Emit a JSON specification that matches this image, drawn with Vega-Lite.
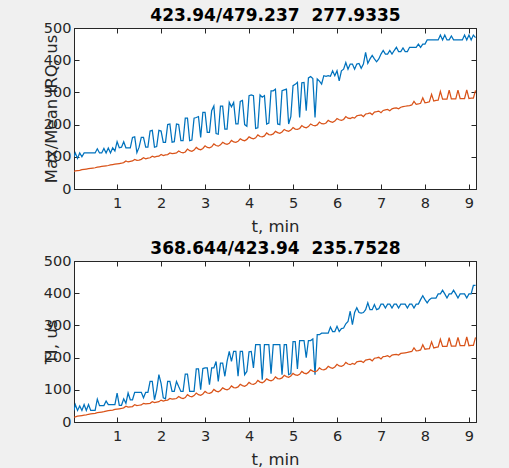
{
"$schema": "https://vega.github.io/schema/vega-lite/v6.json",
"background": "#f0f0f0",
"padding": {"left": 42, "top": 5, "right": 34, "bottom": 0},
"spacing": 3,
"config": {
  "view": {"fill": "white", "stroke": "#262626", "strokeWidth": 1},
  "font": "DejaVu Sans",
  "axis": {"domainColor": "#262626", "tickColor": "#262626", "labelColor": "#262626", "titleColor": "#262626", "labelFont": "DejaVu Sans", "titleFont": "DejaVu Sans", "labelFontSize": 14.5, "titleFontSize": 16.5, "titleFontWeight": "normal", "grid": false, "tickSize": -5, "labelFlush": false, "labelOverlap": false}
},
"datasets": {"d": [
{"t":0.02,"a":100,"b":55,"c":36,"d":15},
{"t":0.05,"a":112,"b":56,"c":54,"d":16},
{"t":0.10,"a":95,"b":57,"c":36,"d":18},
{"t":0.15,"a":112,"b":58,"c":50,"d":19},
{"t":0.20,"a":100,"b":60,"c":36,"d":20},
{"t":0.25,"a":112,"b":61,"c":54,"d":21},
{"t":0.30,"a":112,"b":62,"c":36,"d":22},
{"t":0.35,"a":112,"b":63,"c":54,"d":24},
{"t":0.40,"a":112,"b":64,"c":36,"d":25},
{"t":0.45,"a":112,"b":65,"c":36,"d":26},
{"t":0.50,"a":112,"b":66,"c":36,"d":27},
{"t":0.55,"a":125,"b":68,"c":71,"d":29},
{"t":0.60,"a":112,"b":69,"c":51,"d":30},
{"t":0.65,"a":112,"b":70,"c":51,"d":31},
{"t":0.70,"a":126,"b":71,"c":51,"d":32},
{"t":0.75,"a":112,"b":72,"c":65,"d":34},
{"t":0.80,"a":127,"b":73,"c":54,"d":35},
{"t":0.85,"a":112,"b":75,"c":54,"d":36},
{"t":0.90,"a":128,"b":76,"c":54,"d":37},
{"t":0.95,"a":118,"b":77,"c":54,"d":39},
{"t":1.00,"a":147,"b":78,"c":90,"d":40},
{"t":1.05,"a":128,"b":79,"c":52,"d":41},
{"t":1.10,"a":130,"b":80,"c":52,"d":42},
{"t":1.15,"a":147,"b":82,"c":72,"d":44},
{"t":1.20,"a":128,"b":87,"c":58,"d":49},
{"t":1.25,"a":128,"b":84,"c":90,"d":46},
{"t":1.30,"a":128,"b":86,"c":69,"d":47},
{"t":1.35,"a":160,"b":87,"c":69,"d":48},
{"t":1.40,"a":162,"b":92,"c":92,"d":54},
{"t":1.45,"a":113,"b":89,"c":92,"d":51},
{"t":1.50,"a":130,"b":90,"c":92,"d":52},
{"t":1.55,"a":160,"b":92,"c":92,"d":53},
{"t":1.60,"a":160,"b":97,"c":75,"d":58},
{"t":1.65,"a":130,"b":94,"c":92,"d":56},
{"t":1.70,"a":130,"b":96,"c":92,"d":57},
{"t":1.75,"a":180,"b":97,"c":126,"d":58},
{"t":1.80,"a":182,"b":102,"c":126,"d":63},
{"t":1.85,"a":130,"b":99,"c":69,"d":60},
{"t":1.90,"a":132,"b":101,"c":100,"d":62},
{"t":1.95,"a":182,"b":102,"c":147,"d":63},
{"t":2.00,"a":180,"b":107,"c":120,"d":68},
{"t":2.05,"a":145,"b":104,"c":75,"d":65},
{"t":2.10,"a":145,"b":106,"c":72,"d":67},
{"t":2.15,"a":200,"b":107,"c":126,"d":68},
{"t":2.20,"a":202,"b":112,"c":126,"d":73},
{"t":2.25,"a":145,"b":110,"c":95,"d":71},
{"t":2.30,"a":147,"b":111,"c":95,"d":72},
{"t":2.35,"a":202,"b":112,"c":126,"d":73},
{"t":2.40,"a":200,"b":118,"c":110,"d":79},
{"t":2.45,"a":150,"b":114,"c":95,"d":75},
{"t":2.50,"a":150,"b":112,"c":95,"d":73},
{"t":2.55,"a":220,"b":115,"c":149,"d":76},
{"t":2.60,"a":220,"b":124,"c":149,"d":85},
{"t":2.65,"a":150,"b":119,"c":95,"d":80},
{"t":2.70,"a":152,"b":117,"c":95,"d":78},
{"t":2.75,"a":220,"b":121,"c":95,"d":82},
{"t":2.80,"a":222,"b":129,"c":165,"d":90},
{"t":2.85,"a":225,"b":124,"c":165,"d":85},
{"t":2.90,"a":160,"b":122,"c":100,"d":83},
{"t":2.95,"a":238,"b":126,"c":166,"d":87},
{"t":3.00,"a":238,"b":134,"c":168,"d":95},
{"t":3.05,"a":176,"b":129,"c":168,"d":90},
{"t":3.10,"a":176,"b":128,"c":116,"d":89},
{"t":3.15,"a":243,"b":131,"c":168,"d":92},
{"t":3.20,"a":258,"b":140,"c":168,"d":101},
{"t":3.25,"a":172,"b":135,"c":188,"d":96},
{"t":3.30,"a":170,"b":133,"c":126,"d":94},
{"t":3.35,"a":257,"b":137,"c":183,"d":98},
{"t":3.40,"a":257,"b":145,"c":183,"d":106},
{"t":3.45,"a":186,"b":141,"c":142,"d":102},
{"t":3.50,"a":186,"b":139,"c":188,"d":100},
{"t":3.55,"a":269,"b":142,"c":219,"d":103},
{"t":3.60,"a":255,"b":151,"c":188,"d":112},
{"t":3.65,"a":269,"b":146,"c":219,"d":107},
{"t":3.70,"a":202,"b":145,"c":219,"d":106},
{"t":3.75,"a":202,"b":148,"c":142,"d":109},
{"t":3.80,"a":272,"b":156,"c":219,"d":117},
{"t":3.85,"a":275,"b":152,"c":219,"d":113},
{"t":3.90,"a":200,"b":150,"c":147,"d":111},
{"t":3.95,"a":195,"b":154,"c":157,"d":115},
{"t":4.00,"a":290,"b":162,"c":218,"d":123},
{"t":4.05,"a":292,"b":158,"c":219,"d":118},
{"t":4.10,"a":290,"b":156,"c":168,"d":117},
{"t":4.15,"a":188,"b":159,"c":240,"d":120},
{"t":4.20,"a":190,"b":168,"c":240,"d":129},
{"t":4.25,"a":292,"b":163,"c":240,"d":124},
{"t":4.30,"a":285,"b":162,"c":131,"d":122},
{"t":4.35,"a":290,"b":165,"c":240,"d":126},
{"t":4.40,"a":202,"b":174,"c":240,"d":134},
{"t":4.45,"a":205,"b":169,"c":240,"d":130},
{"t":4.50,"a":305,"b":168,"c":150,"d":128},
{"t":4.55,"a":305,"b":171,"c":240,"d":131},
{"t":4.60,"a":310,"b":179,"c":240,"d":140},
{"t":4.65,"a":202,"b":175,"c":240,"d":135},
{"t":4.70,"a":200,"b":173,"c":240,"d":134},
{"t":4.75,"a":305,"b":177,"c":147,"d":137},
{"t":4.80,"a":308,"b":185,"c":240,"d":145},
{"t":4.85,"a":310,"b":181,"c":240,"d":141},
{"t":4.90,"a":202,"b":179,"c":147,"d":139},
{"t":4.95,"a":225,"b":183,"c":150,"d":143},
{"t":5.00,"a":321,"b":191,"c":250,"d":151},
{"t":5.05,"a":325,"b":186,"c":250,"d":146},
{"t":5.10,"a":331,"b":185,"c":165,"d":145},
{"t":5.15,"a":222,"b":188,"c":253,"d":148},
{"t":5.20,"a":330,"b":197,"c":253,"d":157},
{"t":5.25,"a":331,"b":192,"c":253,"d":152},
{"t":5.30,"a":243,"b":190,"c":200,"d":150},
{"t":5.35,"a":345,"b":194,"c":253,"d":154},
{"t":5.40,"a":349,"b":202,"c":253,"d":162},
{"t":5.45,"a":343,"b":198,"c":258,"d":158},
{"t":5.50,"a":222,"b":196,"c":147,"d":156},
{"t":5.55,"a":342,"b":199,"c":271,"d":159},
{"t":5.60,"a":335,"b":208,"c":271,"d":168},
{"t":5.65,"a":326,"b":203,"c":276,"d":163},
{"t":5.70,"a":352,"b":202,"c":276,"d":162},
{"t":5.75,"a":350,"b":205,"c":276,"d":165},
{"t":5.80,"a":352,"b":213,"c":276,"d":173},
{"t":5.85,"a":350,"b":209,"c":295,"d":169},
{"t":5.90,"a":367,"b":207,"c":281,"d":167},
{"t":5.95,"a":352,"b":211,"c":281,"d":171},
{"t":6.00,"a":367,"b":219,"c":297,"d":179},
{"t":6.05,"a":336,"b":215,"c":281,"d":174},
{"t":6.10,"a":367,"b":213,"c":290,"d":173},
{"t":6.15,"a":372,"b":216,"c":292,"d":176},
{"t":6.20,"a":393,"b":225,"c":305,"d":185},
{"t":6.25,"a":372,"b":220,"c":312,"d":180},
{"t":6.30,"a":388,"b":219,"c":344,"d":178},
{"t":6.35,"a":388,"b":222,"c":302,"d":182},
{"t":6.40,"a":372,"b":220,"c":340,"d":179},
{"t":6.45,"a":388,"b":227,"c":355,"d":187},
{"t":6.50,"a":390,"b":229,"c":340,"d":188},
{"t":6.55,"a":375,"b":230,"c":338,"d":189},
{"t":6.60,"a":388,"b":225,"c":340,"d":185},
{"t":6.65,"a":424,"b":233,"c":349,"d":192},
{"t":6.70,"a":390,"b":234,"c":370,"d":194},
{"t":6.75,"a":404,"b":236,"c":349,"d":195},
{"t":6.80,"a":415,"b":231,"c":349,"d":190},
{"t":6.85,"a":404,"b":239,"c":365,"d":198},
{"t":6.90,"a":395,"b":240,"c":349,"d":199},
{"t":6.95,"a":404,"b":242,"c":352,"d":201},
{"t":7.00,"a":419,"b":237,"c":366,"d":196},
{"t":7.05,"a":430,"b":244,"c":366,"d":203},
{"t":7.10,"a":419,"b":246,"c":354,"d":204},
{"t":7.15,"a":419,"b":247,"c":366,"d":206},
{"t":7.20,"a":430,"b":243,"c":366,"d":202},
{"t":7.25,"a":419,"b":249,"c":354,"d":208},
{"t":7.30,"a":430,"b":251,"c":366,"d":209},
{"t":7.35,"a":440,"b":252,"c":366,"d":210},
{"t":7.40,"a":427,"b":249,"c":354,"d":208},
{"t":7.45,"a":427,"b":254,"c":366,"d":213},
{"t":7.50,"a":438,"b":256,"c":366,"d":214},
{"t":7.55,"a":427,"b":257,"c":366,"d":215},
{"t":7.60,"a":427,"b":258,"c":354,"d":216},
{"t":7.65,"a":440,"b":259,"c":366,"d":218},
{"t":7.70,"a":440,"b":261,"c":366,"d":219},
{"t":7.75,"a":440,"b":272,"c":354,"d":230},
{"t":7.80,"a":440,"b":263,"c":366,"d":221},
{"t":7.85,"a":450,"b":264,"c":366,"d":222},
{"t":7.90,"a":440,"b":266,"c":380,"d":224},
{"t":7.95,"a":450,"b":283,"c":392,"d":240},
{"t":8.00,"a":450,"b":268,"c":380,"d":226},
{"t":8.05,"a":463,"b":269,"c":370,"d":227},
{"t":8.10,"a":463,"b":271,"c":380,"d":228},
{"t":8.15,"a":463,"b":294,"c":385,"d":249},
{"t":8.20,"a":463,"b":273,"c":385,"d":230},
{"t":8.25,"a":463,"b":275,"c":385,"d":232},
{"t":8.30,"a":463,"b":276,"c":398,"d":233},
{"t":8.35,"a":478,"b":303,"c":398,"d":257},
{"t":8.40,"a":463,"b":279,"c":409,"d":235},
{"t":8.45,"a":478,"b":279,"c":398,"d":235},
{"t":8.50,"a":463,"b":279,"c":385,"d":235},
{"t":8.55,"a":463,"b":307,"c":398,"d":262},
{"t":8.60,"a":475,"b":280,"c":398,"d":236},
{"t":8.65,"a":463,"b":280,"c":409,"d":236},
{"t":8.70,"a":463,"b":280,"c":398,"d":236},
{"t":8.75,"a":463,"b":307,"c":385,"d":263},
{"t":8.80,"a":463,"b":281,"c":398,"d":237},
{"t":8.85,"a":463,"b":281,"c":398,"d":237},
{"t":8.90,"a":478,"b":281,"c":398,"d":237},
{"t":8.95,"a":463,"b":308,"c":385,"d":264},
{"t":9.00,"a":478,"b":281,"c":398,"d":237},
{"t":9.05,"a":463,"b":282,"c":398,"d":238},
{"t":9.10,"a":478,"b":282,"c":424,"d":238},
{"t":9.15,"a":470,"b":306,"c":424,"d":263}
]},
"vconcat": [
  {
    "width": 402, "height": 161,
    "data": {"name": "d"},
    "resolve": {"axis": {"x": "independent", "y": "independent"}},
    "layer": [
      {"mark": {"type": "line", "color": "#0072BD", "strokeWidth": 1.25, "clip": true},
       "encoding": {
         "x": {"field": "t", "type": "quantitative", "scale": {"domain": [0.02, 9.16], "nice": false, "zero": false},
               "axis": {"orient": "bottom", "values": [1,2,3,4,5,6,7,8,9], "labelPadding": 12, "title": "t, min", "titleX": 201, "titleY": 42, "titleBaseline": "alphabetic", "titleAlign": "center"}},
         "y": {"field": "a", "type": "quantitative", "scale": {"domain": [0, 500], "nice": false},
               "axis": {"orient": "left", "values": [0,100,200,300,400,500], "labelPadding": 8, "title": "Max/Mean IRQ, us", "titleX": -18, "titleY": 80.5, "titleAngle": 270, "titleBaseline": "alphabetic", "titleAlign": "center"}}
       }},
      {"mark": {"type": "line", "color": "#D95319", "strokeWidth": 1.25, "clip": true},
       "encoding": {
         "x": {"field": "t", "type": "quantitative", "scale": {"domain": [0.02, 9.16], "nice": false, "zero": false},
               "axis": {"orient": "top", "values": [1,2,3,4,5,6,7,8,9], "labels": false, "title": "423.94/479.237\u00a0\u00a0277.9335", "titleX": 201, "titleY": -8, "titleBaseline": "alphabetic", "titleAlign": "center", "titleFontSize": 17, "titleFontWeight": "bold", "titleColor": "black"}},
         "y": {"field": "b", "type": "quantitative", "scale": {"domain": [0, 500], "nice": false},
               "axis": {"orient": "right", "values": [0,100,200,300,400,500], "labels": false, "title": null}}
       }}
    ]
  },
  {
    "width": 402, "height": 161,
    "data": {"name": "d"},
    "resolve": {"axis": {"x": "independent", "y": "independent"}},
    "layer": [
      {"mark": {"type": "line", "color": "#0072BD", "strokeWidth": 1.25, "clip": true},
       "encoding": {
         "x": {"field": "t", "type": "quantitative", "scale": {"domain": [0.02, 9.16], "nice": false, "zero": false},
               "axis": {"orient": "bottom", "values": [1,2,3,4,5,6,7,8,9], "labelPadding": 12, "title": "t, min", "titleX": 201, "titleY": 42, "titleBaseline": "alphabetic", "titleAlign": "center"}},
         "y": {"field": "c", "type": "quantitative", "scale": {"domain": [0, 500], "nice": false},
               "axis": {"orient": "left", "values": [0,100,200,300,400,500], "labelPadding": 8, "title": "TI, us", "titleX": -18, "titleY": 80.5, "titleAngle": 270, "titleBaseline": "alphabetic", "titleAlign": "center"}}
       }},
      {"mark": {"type": "line", "color": "#D95319", "strokeWidth": 1.25, "clip": true},
       "encoding": {
         "x": {"field": "t", "type": "quantitative", "scale": {"domain": [0.02, 9.16], "nice": false, "zero": false},
               "axis": {"orient": "top", "values": [1,2,3,4,5,6,7,8,9], "labels": false, "title": "368.644/423.94\u00a0\u00a0235.7528", "titleX": 201, "titleY": -8, "titleBaseline": "alphabetic", "titleAlign": "center", "titleFontSize": 17, "titleFontWeight": "bold", "titleColor": "black"}},
         "y": {"field": "d", "type": "quantitative", "scale": {"domain": [0, 500], "nice": false},
               "axis": {"orient": "right", "values": [0,100,200,300,400,500], "labels": false, "title": null}}
       }}
    ]
  }
]
}
